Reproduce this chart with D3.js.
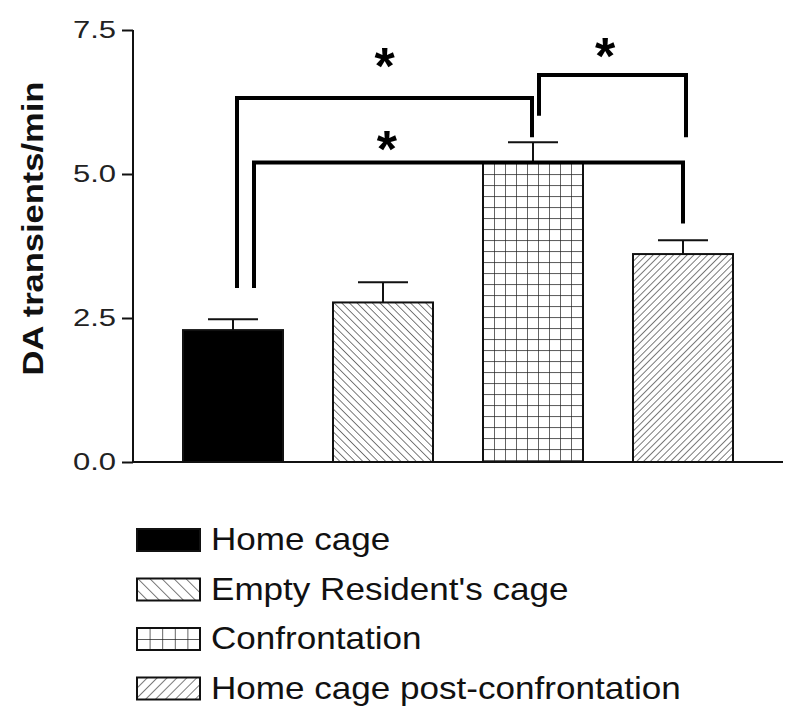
<!DOCTYPE html>
<html>
<head>
<meta charset="utf-8">
<script src="https://cdnjs.cloudflare.com/ajax/libs/d3/7.8.5/d3.min.js"></script>
<style>
  body { margin: 0; background: #fff; }
  text { font-family: 'Liberation Sans', Arial, sans-serif; }
</style>
</head>
<body>
<div id="chart"></div>
<script>
const categories = ['Home cage', "Empty Resident's cage", 'Confrontation', 'Home cage post-confrontation']
const means = [2.29, 2.77, 5.19, 3.61]
const sems = [0.19, 0.35, 0.36, 0.24]
const fills = ['solid', 'back', 'grid', 'fwd']
const yTicks = [0, 2.5, 5, 7.5]

// significance brackets: bar pairs, top level and foot levels (data units)
const bracketPairs = [[0, 2], [0, 3], [2, 3]]
const bracketTops = [6.32, 5.2, 6.72]
const bracketLeftEnds = [3.02, 3.02, 6.01]
const bracketRightEnds = [5.64, 4.14, 5.64]
const starLevels = [6.98, 5.54, 7.15]

// layout only
const legOffsets = [[0.04, -0.01], [0.21, 0], [0.06, 0.03]]
const starAt = [0.5, 0.31, 0.45]

const width = 800
const height = 720

const svg = d3.select('#chart')
  .append('svg')
  .attr('width', width)
  .attr('height', height)

const x = d3.scaleBand().domain(categories).range([133, 783])
  .paddingInner(1 / 3).paddingOuter(1 / 3)
const y = d3.scaleLinear().domain([0, 7.5]).range([462, 30])

const defs = svg.append('defs')

function linePattern (id, size, angle, ox, oy) {
  const p = defs.append('pattern')
    .attr('id', id)
    .attr('patternUnits', 'userSpaceOnUse')
    .attr('width', size).attr('height', size)
    .attr('patternTransform', `translate(${ox},${oy}) rotate(${angle})`)
  p.append('line')
    .attr('x1', 0).attr('y1', -1).attr('x2', 0).attr('y2', size + 1)
    .attr('stroke', '#222').attr('stroke-width', 1.2)
}

function gridPattern (id, w, h, ox, oy) {
  const p = defs.append('pattern')
    .attr('id', id)
    .attr('patternUnits', 'userSpaceOnUse')
    .attr('x', ox).attr('y', oy)
    .attr('width', w).attr('height', h)
  p.append('path')
    .attr('d', `M0,0V${h}M0,0H${w}`)
    .attr('fill', 'none')
    .attr('stroke', '#222').attr('stroke-width', 1.4)
}

function fillFor (kind, id, ox, oy, small) {
  if (kind === 'solid') return '#000'
  if (kind === 'back') linePattern(id, small ? 8.5 : 5.4, -45, ox, oy)
  if (kind === 'fwd') linePattern(id, small ? 7 : 4.8, 45, ox, oy)
  if (kind === 'grid') gridPattern(id, small ? 12.6 : 11, 11, ox, oy)
  return `url(#${id})`
}

// bars
svg.append('g').selectAll('rect')
  .data(categories)
  .join('rect')
  .attr('x', d => x(d))
  .attr('y', (d, i) => y(means[i]))
  .attr('width', x.bandwidth())
  .attr('height', (d, i) => y(0) - y(means[i]))
  .attr('fill', (d, i) => fillFor(fills[i], 'bar' + i, x(d), y(means[i]), false))
  .attr('stroke', '#111')
  .attr('stroke-width', 2)

// error bars
const eb = svg.append('g').attr('stroke', '#111').attr('stroke-width', 2)
categories.forEach((c, i) => {
  const cx = x(c) + x.bandwidth() / 2
  eb.append('line')
    .attr('x1', cx).attr('x2', cx)
    .attr('y1', y(means[i])).attr('y2', y(means[i] + sems[i]))
  eb.append('line')
    .attr('x1', cx - x.bandwidth() / 4).attr('x2', cx + x.bandwidth() / 4)
    .attr('y1', y(means[i] + sems[i])).attr('y2', y(means[i] + sems[i]))
})

// axes
const yAxis = svg.append('g')
  .attr('transform', 'translate(133,0)')
  .call(d3.axisLeft(y).tickValues(yTicks).tickFormat(d3.format('.1f')).tickSize(11).tickPadding(4))
yAxis.select('.domain').attr('stroke', '#111').attr('stroke-width', 2).attr('d', `M0,${y(0)}V${y(7.5)}`)
yAxis.selectAll('.tick line').attr('stroke', '#111').attr('stroke-width', 2)
// the original lettering is stretched sideways
yAxis.selectAll('.tick text')
  .attr('x', 0)
  .attr('transform', 'translate(-17,0) scale(1.32,1)')
  .attr('font-size', 23.5)
  .attr('font-family', "'Liberation Sans', Arial, sans-serif")
  .attr('fill', '#222')

svg.append('line')
  .attr('x1', 132).attr('x2', x.range()[1])
  .attr('y1', y(0)).attr('y2', y(0))
  .attr('stroke', '#111').attr('stroke-width', 2)

svg.append('text')
  .attr('transform', 'translate(43,228.5) rotate(-90) scale(1.15,1)')
  .attr('text-anchor', 'middle')
  .attr('font-size', 30)
  .attr('font-weight', 'bold')
  .attr('fill', '#111')
  .text('DA transients/min')

// significance brackets
const br = svg.append('g')
bracketPairs.forEach((pair, i) => {
  const xl = x(categories[pair[0]]) + x.bandwidth() * (0.5 + legOffsets[i][0])
  const xr = x(categories[pair[1]]) + x.bandwidth() * (0.5 + legOffsets[i][1])
  br.append('path')
    .attr('d', `M${xl},${y(bracketLeftEnds[i])}V${y(bracketTops[i])}H${xr}V${y(bracketRightEnds[i])}`)
    .attr('fill', 'none')
    .attr('stroke', '#000')
    .attr('stroke-width', 4)
  br.append('text')
    .attr('x', xl + (xr - xl) * starAt[i])
    .attr('y', y(starLevels[i]) + 24)
    .attr('text-anchor', 'middle')
    .attr('font-size', 52)
    .attr('font-weight', 'bold')
    .attr('fill', '#000')
    .text('*')
})

// legend
const legend = svg.append('g')
categories.forEach((c, i) => {
  const top = 529 + i * 49.5
  legend.append('rect')
    .attr('x', 137).attr('y', top)
    .attr('width', 63).attr('height', 22)
    .attr('fill', fillFor(fills[i], 'leg' + i, 137, top, true))
    .attr('stroke', '#111').attr('stroke-width', 2)
  legend.append('text')
    .attr('transform', `translate(211,${top + 21}) scale(1.15,1)`)
    .attr('font-size', 30.5)
    .attr('fill', '#111')
    .text(c)
})
</script>
</body>
</html>
